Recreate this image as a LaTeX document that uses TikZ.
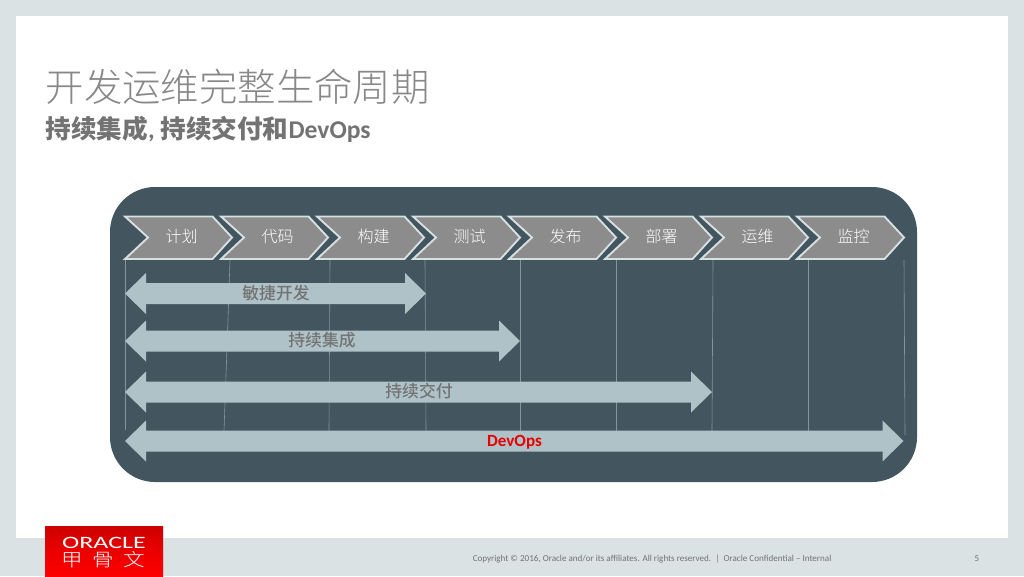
\documentclass[tikz,border=0pt]{standalone}
\usepackage{fontspec}
\setmainfont{Carlito}
\newfontfamily\cjk{Noto Sans CJK SC}
\newfontfamily\cjklight{Noto Sans CJK SC Light}
\newfontfamily\cjkmed{Noto Sans CJK SC Medium}
\newfontfamily\cjkbold{Noto Sans CJK SC Bold}
\definecolor{pagebg}{HTML}{DAE2E4}
\definecolor{panel}{HTML}{43565F}
\definecolor{barfill}{HTML}{AFC2C8}
\definecolor{chevfill}{HTML}{8C8C8C}
\definecolor{chevline}{HTML}{D8E0E2}
\definecolor{gridline}{HTML}{84969D}
\definecolor{txtgray}{HTML}{737373}
\tikzset{
  x=0.75pt,y=-0.75pt,
  chev/.style={fill=chevfill,draw=chevline,line width=1.4pt,line join=miter},
  chevlabel/.style={text=white,font=\cjklight\fontsize{12}{12}\selectfont,inner sep=0pt},
  bar/.style={fill=barfill,draw=none},
  barlabel/.style={text=txtgray,font=\cjkmed\fontsize{12.6}{13}\selectfont,inner sep=0pt},
  grid/.style={draw=gridline,line width=0.45pt},
}
\newcommand{\chevat}[3]{%
  \draw[chev] (#1,216.5) -- ++(87.5,0) -- ++(19.5,21) -- ++(-19.5,21.5) -- ++(-87.5,0) -- ++(23,-21.5) -- cycle;
  \node[chevlabel] (#3) at (#1+56.5,236.5) {#2};
}
\newcommand{\dblarrow}[2]{% right tip, centre y
  \draw[bar] (125,#2) -- (146,#2-20.5) -- (146,#2-10.5) -- (#1-21,#2-10.5) -- (#1-21,#2-20.5)
    -- (#1,#2) -- (#1-21,#2+20.5) -- (#1-21,#2+10.5) -- (146,#2+10.5) -- (146,#2+20.5) -- cycle;
}
\begin{document}
\begin{tikzpicture}
\useasboundingbox (0,0) rectangle (1024,576);
\fill[pagebg] (0,0) rectangle (1024,576);
\fill[white] (16,16) rectangle (1008,537.5);
\node[anchor=west,inner sep=0pt,text=txtgray!85!white,font=\cjklight\fontsize{28.8}{30}\selectfont] (title) at (45.5,87) {开发运维完整生命周期};
\node[anchor=west,inner sep=0pt,text=txtgray,font=\fontsize{19.2}{21}\selectfont\bfseries] (sub) at (45.5,129) {{\cjkbold 持续集成}, {\cjkbold 持续交付和}DevOps};
\fill[panel,rounded corners=33.75pt] (110,187) rectangle (917,482);
% grid lines
\draw[grid] (125,260) -- (125,430);
\draw[grid] (230,260) -- (228,320) -- (224,431);
\draw[grid] (330,260) -- (329,431);
\draw[grid] (425,260) -- (426,431);
\draw[grid] (520,260) -- (520,431);
\draw[grid] (616,260) -- (616,431);
\draw[grid] (713,260) -- (712,431);
\draw[grid] (808,260) -- (808,431);
\draw[grid] (904,260) -- (905,435);
% chevrons
\chevat{125}{计划}{c1}
\chevat{221}{代码}{c2}
\chevat{317}{构建}{c3}
\chevat{413}{测试}{c4}
\chevat{509}{发布}{c5}
\chevat{605}{部署}{c6}
\chevat{701}{运维}{c7}
\chevat{797}{监控}{c8}
% arrows
\dblarrow{426}{293.5}
\dblarrow{520}{341}
\dblarrow{712}{392}
\dblarrow{903.5}{441}
\node[barlabel] (l1) at (276,293) {敏捷开发};
\node[barlabel] (l2) at (322,340.5) {持续集成};
\node[barlabel] (l3) at (419,391.5) {持续交付};
\node[inner sep=0pt,text=red!90!black,font=\fontsize{12.8}{14}\selectfont\bfseries] (l4) at (514.5,442) {DevOps};
% logo
\shade[top color=red!80!black,bottom color=red,middle color=red!92!black] (45,526) rectangle (163,576);
\node[inner sep=0pt,text=white,font=\fontsize{13}{13}\selectfont,xscale=1.5] (logo1) at (104,542.5) {ORACLE};
\node[inner sep=0pt,text=white,font=\cjklight\fontsize{13.5}{14}\selectfont,xscale=1.2] (logo2) at (103.5,559.5) {甲\hspace{6pt}骨\hspace{6pt}文};
% footer
\node[anchor=west,inner sep=0pt,text=black!55,font=\fontsize{6.8}{7}\selectfont] (foot) at (472.5,558.5) {Copyright © 2016, Oracle and/or its affiliates. All rights reserved.\ \ |\ \ Oracle Confidential – Internal};
\node[inner sep=0pt,text=black!55,font=\fontsize{6.8}{7}\selectfont] (page) at (977,558.5) {5};
\end{tikzpicture}
\end{document}
